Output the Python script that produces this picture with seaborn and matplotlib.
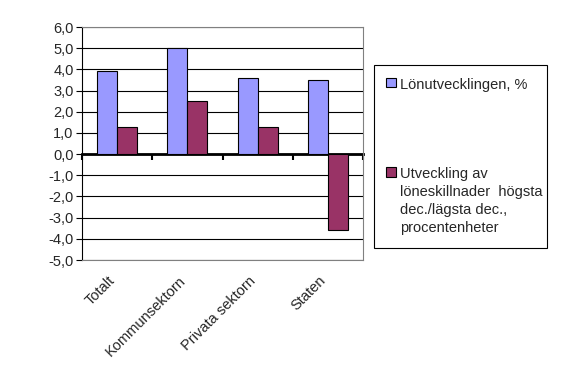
import pandas as pd
import matplotlib
matplotlib.use("Agg")
import matplotlib.pyplot as plt
import matplotlib.transforms as mtransforms
import seaborn as sns
from matplotlib.patches import Patch
from matplotlib.ticker import FuncFormatter

# values
kategorier = ["Totalt", "Kommunsektorn", "Privata sektorn", "Staten"]
lonutveckling = [3.9, 5.0, 3.6, 3.5]
loneskillnader = [1.3, 2.5, 1.3, -3.6]
serie_namn = ["Lönutvecklingen, %",
              "Utveckling av\nlöneskillnader  högsta\ndec./lägsta dec.,\nprocentenheter"]
farger = ["#9999FF", "#993366"]
y_ticks = list(range(-5, 7))

df = pd.DataFrame({
    "kategori": kategorier * 2,
    "varde": lonutveckling + loneskillnader,
    "serie": [serie_namn[0]] * 4 + [serie_namn[1]] * 4,
})

sns.set_style("white")
plt.rcParams["font.family"] = ["Liberation Sans", "DejaVu Sans"]

fig = plt.figure(figsize=(5.62, 3.81), dpi=100)
ax = fig.add_axes([82 / 562, 1 - 260 / 381, 281 / 562, 233 / 381])

sns.barplot(data=df, x="kategori", y="varde", hue="serie", palette=farger,
            width=0.57, saturation=1, edgecolor="black", linewidth=0.8,
            legend=False, ax=ax, zorder=3)

ax.set_ylim(-5, 6)
ax.set_xlim(-0.5, len(kategorier) - 0.5)
ax.set_yticks(y_ticks)
ax.yaxis.set_major_formatter(FuncFormatter(lambda v, p: f"{v:.1f}".replace(".", ",")))
ax.tick_params(axis="y", left=True, length=4, width=0.8, color="black", labelsize=10.5, pad=2)
for t in y_ticks:
    ax.axhline(t, color="black", lw=0.8, zorder=1)
ax.set_xlabel("")
ax.set_ylabel("")

# category labels at the bottom, rotated, nudged a little left like in the original
ax.set_xticks(range(len(kategorier)))
ax.set_xticklabels(kategorier, rotation=45, ha="right", rotation_mode="anchor", fontsize=10.5)
ax.tick_params(axis="x", bottom=True, length=0, pad=12)
nudge = mtransforms.ScaledTranslation(-0.09, 0.03, fig.dpi_scale_trans)
for lbl in ax.get_xticklabels():
    lbl.set_transform(lbl.get_transform() + nudge)

for s in ["top", "right", "bottom"]:
    ax.spines[s].set_color("#808080")
    ax.spines[s].set_linewidth(0.8)
ax.spines["left"].set_color("black")
ax.spines["left"].set_linewidth(0.8)

# zero axis with category divider ticks
ymin, ymax = ax.get_ylim()
sec = ax.secondary_xaxis((0 - ymin) / (ymax - ymin))
sec.set_xticks([i - 0.5 for i in range(len(kategorier) + 1)])
sec.set_xticklabels([])
sec.tick_params(direction="out", length=4, width=1.5, color="black")
sec.spines["bottom"].set_linewidth(2)
sec.spines["bottom"].set_color("black")

handles = [Patch(facecolor=c, edgecolor="black", linewidth=0.8) for c in farger]
leg = fig.legend(handles, serie_namn, loc="upper left",
                 bbox_to_anchor=(374 / 562, 1 - 69 / 381, 173 / 562, 0.01),
                 mode="expand", borderaxespad=0, fontsize=10.5, frameon=True,
                 fancybox=False, edgecolor="black", framealpha=1,
                 handlelength=0.65, handleheight=0.65, handletextpad=0.3,
                 borderpad=0.85, labelspacing=5.2)
leg.get_frame().set_linewidth(0.8)
for t in leg.get_texts():
    t.set_linespacing(1.36)
for col in leg._legend_handle_box.get_children():
    for row in col.get_children():
        row.align = "top"

fig.savefig("out.png", dpi=100, facecolor="white")
